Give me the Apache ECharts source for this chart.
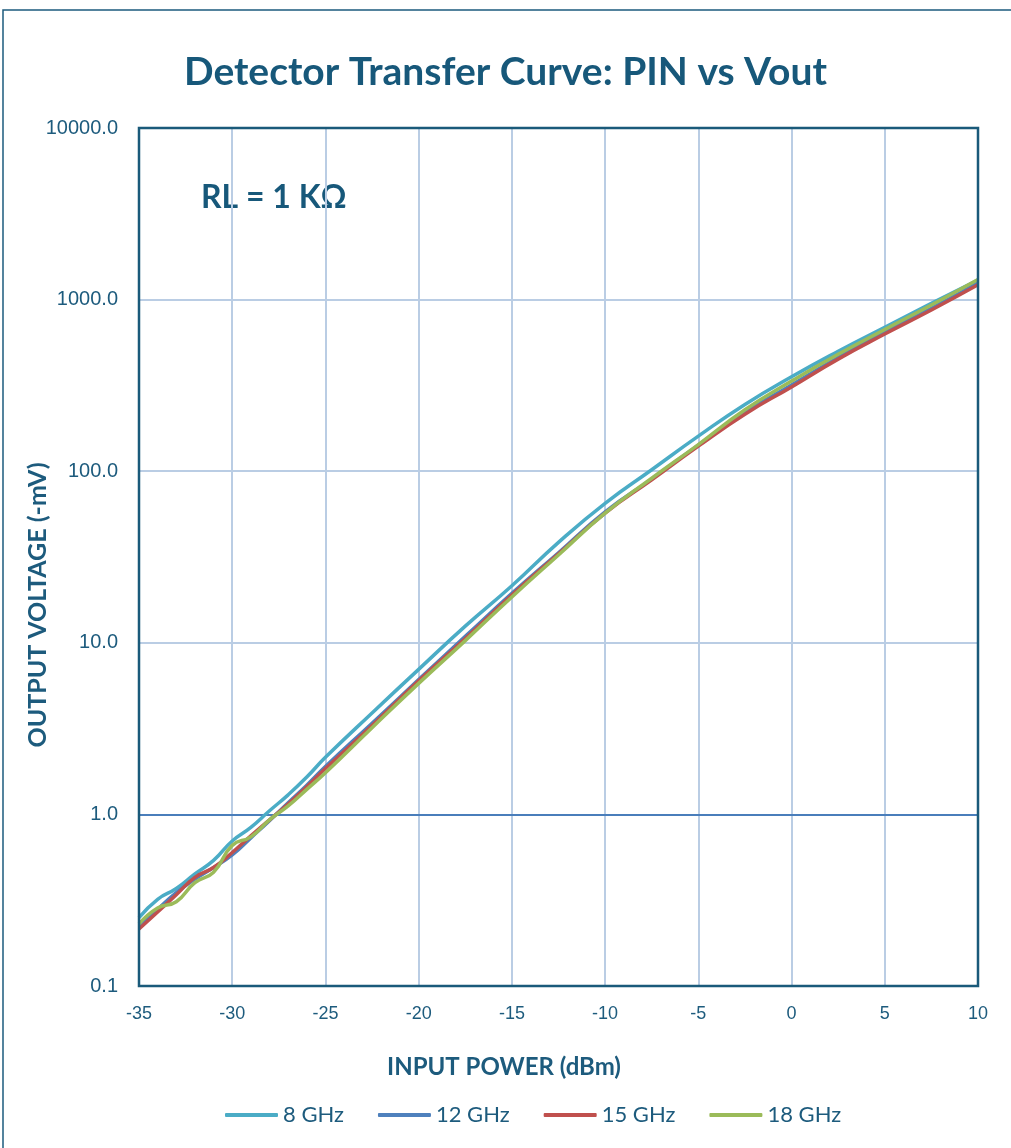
<!DOCTYPE html>
<html><head><meta charset="utf-8">
<script src="https://cdn.jsdelivr.net/npm/echarts@6/dist/echarts.min.js"></script>
<style>html,body{margin:0;padding:0;background:#fff}#c{width:1011px;height:1148px}</style>
</head><body><div id="c"></div>
<script>
const pin = [-35,-34,-33,-32,-31,-30,-29,-28,-27,-26,-25,-22.5,-20,-17.5,-15,-12.5,-10,-7.5,-5,-2.5,0,2.5,5,7.5,10];
const v8GHz  = [0.25,0.32,0.37,0.45,0.54,0.70,0.84,1.05,1.30,1.65,2.15,3.9,7.0,12.5,21.5,38.5,65,102,160,245,355,500,690,950,1300];
const v12GHz = [0.22,0.28,0.35,0.42,0.49,0.58,0.73,0.92,1.17,1.48,1.9,3.4,6.1,10.9,19.4,33.5,58,90,142,220,318,460,645,890,1250];
const v15GHz = [0.215,0.27,0.34,0.43,0.49,0.60,0.75,0.93,1.15,1.45,1.85,3.3,6.0,10.6,19,33,57,89,140,215,310,450,630,870,1220];
const v18GHz = [0.23,0.285,0.31,0.40,0.46,0.66,0.74,0.93,1.12,1.40,1.75,3.2,5.8,10.3,18.5,32.5,57,91,143,228,335,480,670,930,1310];
const xTicks = {min:-35, max:10, step:5};
const yRange = {min:0.1, max:10000};

const txt = '#1d5b7d';
const G = {left:139, top:128, right:978, bottom:986};
function pairs(vals){ return pin.map((p,i)=>[p, vals[i]]); }
function ser(name, vals, color, extra){
  return Object.assign({name, type:'line', data:pairs(vals), smooth:0.5, showSymbol:false, symbol:'none',
    lineStyle:{color, width:3.5}, itemStyle:{color}}, extra||{});
}
const chart = echarts.init(document.getElementById('c'));
chart.setOption({
  animation:false,
  backgroundColor:'#fff',
  title:[{text:'Detector Transfer Curve: PIN vs Vout', left:'center', top:48,
    textStyle:{fontFamily:'Lato', fontWeight:'bold', fontSize:39, color:'#17587a'}}],
  graphic:[
    {type:'rect', shape:{x:3, y:10, width:1020, height:1160}, style:{fill:'none', stroke:'#1d5b7d', lineWidth:1.5}, silent:true},
    {type:'rect', z:50, shape:{x:G.left, y:G.top, width:G.right-G.left, height:G.bottom-G.top}, style:{fill:'none', stroke:'#1a5a7a', lineWidth:2.5}, silent:true},
    {type:'text', x:201, y:198, style:{text:'RL = 1 KΩ', font:'bold 32px Lato', fill:'#17587a', textVerticalAlign:'middle'}},
    {type:'text', x:504, y:1067, style:{text:'INPUT POWER (dBm)', font:'bold 24px Lato', fill:txt, textAlign:'center', textVerticalAlign:'middle'}},
    {type:'text', x:38, y:605, rotation:Math.PI/2, style:{text:'OUTPUT VOLTAGE (-mV)', font:'bold 25px Lato', fill:txt, textAlign:'center', textVerticalAlign:'middle'}}
  ],
  legend:{top:1104, left:225, itemWidth:53, itemHeight:4, itemGap:34, icon:'roundRect',
    textStyle:{fontFamily:'Lato', fontSize:22, color:txt, padding:[0,0,0,0]}, padding:[0,0,0,0]},
  grid:{left:G.left, right:1011-G.right, top:G.top, bottom:1148-G.bottom, show:false},
  xAxis:{type:'value', min:xTicks.min, max:xTicks.max, interval:xTicks.step,
    axisLine:{show:false}, axisTick:{show:false},
    axisLabel:{fontFamily:'Liberation Sans', fontSize:18, color:txt, margin:19},
    splitLine:{show:true, lineStyle:{color:'#bacde4', width:2}}},
  yAxis:{type:'log', logBase:10, min:yRange.min, max:yRange.max,
    axisLine:{show:false}, axisTick:{show:false},
    axisLabel:{fontFamily:'Liberation Sans', fontSize:20, color:txt, margin:21, formatter:v=>Number(v).toFixed(1)},
    splitLine:{show:true, lineStyle:{color:'#bacde4', width:2}}},
  series:[
    ser('8 GHz', v8GHz, '#4bacc6', {markLine:{silent:true, symbol:'none', label:{show:false}, z:1,
      lineStyle:{color:'#4a7ebb', width:2, type:'solid'}, data:[{yAxis:1}]}}),
    ser('12 GHz', v12GHz, '#4f81bd'),
    ser('15 GHz', v15GHz, '#c0504d'),
    ser('18 GHz', v18GHz, '#9bbb59')
  ]
});
</script></body></html>
